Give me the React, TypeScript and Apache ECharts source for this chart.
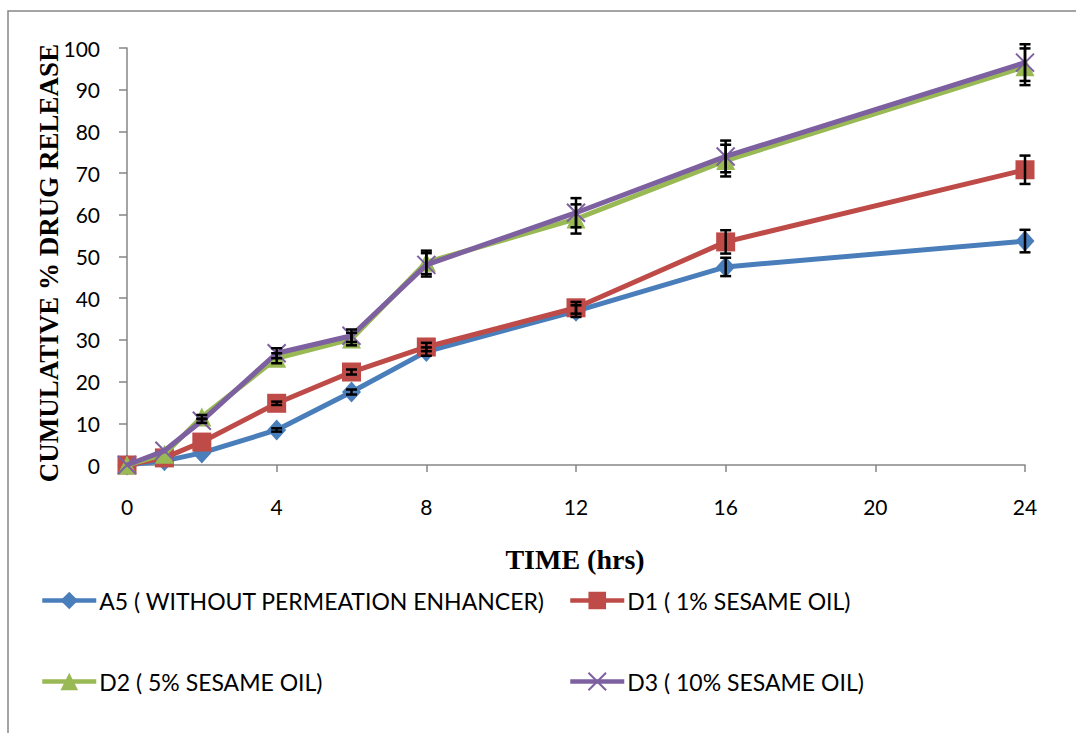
import React, { useEffect, useRef } from "react";
import * as echarts from "echarts";

const times = [0, 1, 2, 4, 6, 8, 12, 16, 24];
const seriesNames = [
  "A5 ( WITHOUT PERMEATION ENHANCER)",
  "D1 ( 1% SESAME OIL)",
  "D2 ( 5% SESAME OIL)",
  "D3 ( 10% SESAME OIL)",
];
const a5 = [0, 1.0, 2.9, 8.4, 17.5, 27.2, 36.9, 47.5, 53.7];
const d1 = [0, 1.7, 5.5, 14.8, 22.3, 28.3, 37.7, 53.5, 70.8];
const d2 = [0, 2.6, 11.5, 25.6, 30.2, 48.6, 59.0, 73.0, 95.5];
const d3 = [0, 3.4, 10.6, 26.8, 31.0, 48.0, 60.5, 74.0, 96.5];
const a5Err = [0, 0, 0, 0.4, 0.6, 1.0, 1.4, 2.2, 2.7];
const d1Err = [0, 0, 0, 0.4, 0.6, 1.0, 1.4, 2.8, 3.4];
const d2Err = [0, 0, 0.5, 1.2, 1.5, 2.8, 3.5, 3.8, 4.4];
const d3Err = [0, 0, 0.5, 1.2, 1.5, 2.8, 3.5, 3.8, 4.4];
const yTicks = { min: 0, max: 100, interval: 10 };
const xTicks = { min: 0, max: 24, interval: 4 };

const colors = ["#4A7EBB", "#BE4B48", "#98B954", "#7D60A0"];
const symbols = ["diamond", "rect", "triangle", "path://M0 0L10 10M10 0L0 10"];
const symbolSizes: any[] = [[19, 21], 19, 19, 18];

export default function App() {
  const ref = useRef<HTMLDivElement>(null);
  useEffect(() => {
    const chart = echarts.init(ref.current!, null, { renderer: "svg" });
    const values = [a5, d1, d2, d3];
    const errs = [a5Err, d1Err, d2Err, d3Err];
    const font = "Lato, 'Noto Sans', sans-serif";
    const serif = "'Liberation Serif', 'Times New Roman', serif";

    const lineSeries = values.map((vals, i) => ({
      type: "line",
      name: seriesNames[i],
      data: times.map((t, j) => [t, vals[j]]),
      symbol: symbols[i],
      symbolSize: symbolSizes[i],
      showSymbol: true,
      lineStyle: { color: colors[i], width: 5 },
      itemStyle:
        i === 3
          ? { color: colors[i], borderColor: colors[i], borderWidth: 2 }
          : { color: colors[i] },
      z: 3 + i,
    }));

    const errSeries = values.map((vals, i) => ({
      type: "custom",
      name: "err" + i,
      data: times.map((t, j) => [t, vals[j], errs[i][j]]),
      z: 10,
      silent: true,
      renderItem: (params: any, api: any) => {
        const x = api.value(0);
        const y = api.value(1);
        const e = api.value(2);
        if (!e) return null;
        const top = api.coord([x, y + e]);
        const bot = api.coord([x, y - e]);
        const hw = 5.5;
        const style = { stroke: "#000", lineWidth: 2.5 };
        return {
          type: "group",
          children: [
            { type: "line", shape: { x1: top[0], y1: top[1], x2: bot[0], y2: bot[1] }, style },
            { type: "line", shape: { x1: top[0] - hw, y1: top[1], x2: top[0] + hw, y2: top[1] }, style },
            { type: "line", shape: { x1: bot[0] - hw, y1: bot[1], x2: bot[0] + hw, y2: bot[1] }, style },
          ],
        };
      },
    }));

    const legendPos = [
      { left: 40, top: 589 },
      { left: 568, top: 589 },
      { left: 40, top: 670 },
      { left: 568, top: 670 },
    ];

    chart.setOption({
      animation: false,
      backgroundColor: "#fff",
      grid: { left: 127, right: 51, top: 48, bottom: 268 },
      xAxis: {
        type: "value",
        min: xTicks.min,
        max: xTicks.max,
        interval: xTicks.interval,
        axisLine: { show: true, lineStyle: { color: "#868686", width: 1.5 } },
        axisTick: { show: true, inside: false, length: 7, lineStyle: { color: "#868686", width: 1.5 } },
        splitLine: { show: false },
        axisLabel: { color: "#000", fontSize: 21, fontFamily: font, margin: 31 },
      },
      yAxis: {
        type: "value",
        min: yTicks.min,
        max: yTicks.max,
        interval: yTicks.interval,
        axisLine: { show: true, lineStyle: { color: "#868686", width: 1.5 } },
        axisTick: { show: true, inside: false, length: 8, lineStyle: { color: "#868686", width: 1.5 } },
        splitLine: { show: false },
        axisLabel: { color: "#000", fontSize: 21, fontFamily: font, margin: 27 },
      },
      legend: seriesNames.map((n, i) => ({
        data: [n],
        left: legendPos[i].left,
        top: legendPos[i].top,
        padding: 0,
        itemWidth: 54,
        itemHeight: 22,
        itemGap: 4,
        selectedMode: false,
        lineStyle: { width: 4.5 },
        textStyle: { fontSize: 23, fontFamily: font, color: "#000", padding: [0, 0, 0, -2] },
      })),
      graphic: [
        {
          type: "rect",
          shape: { x: 8, y: 11, width: 1200, height: 900 },
          style: { fill: "none", stroke: "#868686", lineWidth: 1.5 },
          silent: true,
        },
        {
          type: "text",
          x: 575,
          y: 559,
          style: {
            text: "TIME (hrs)",
            fontFamily: serif,
            fontWeight: "bold",
            fontSize: 28,
            fill: "#000",
            align: "center",
            verticalAlign: "middle",
          },
        },
        {
          type: "text",
          x: 49,
          y: 263,
          rotation: Math.PI / 2,
          style: {
            text: "CUMULATIVE % DRUG RELEASE",
            fontFamily: serif,
            fontWeight: "bold",
            fontSize: 27,
            fill: "#000",
            align: "center",
            verticalAlign: "middle",
          },
        },
      ],
      series: [...lineSeries, ...errSeries],
    });
    return () => chart.dispose();
  }, []);
  return (
    <div
      ref={ref}
      style={{ position: "absolute", left: 0, top: 0, width: 1076, height: 733 }}
    />
  );
}
